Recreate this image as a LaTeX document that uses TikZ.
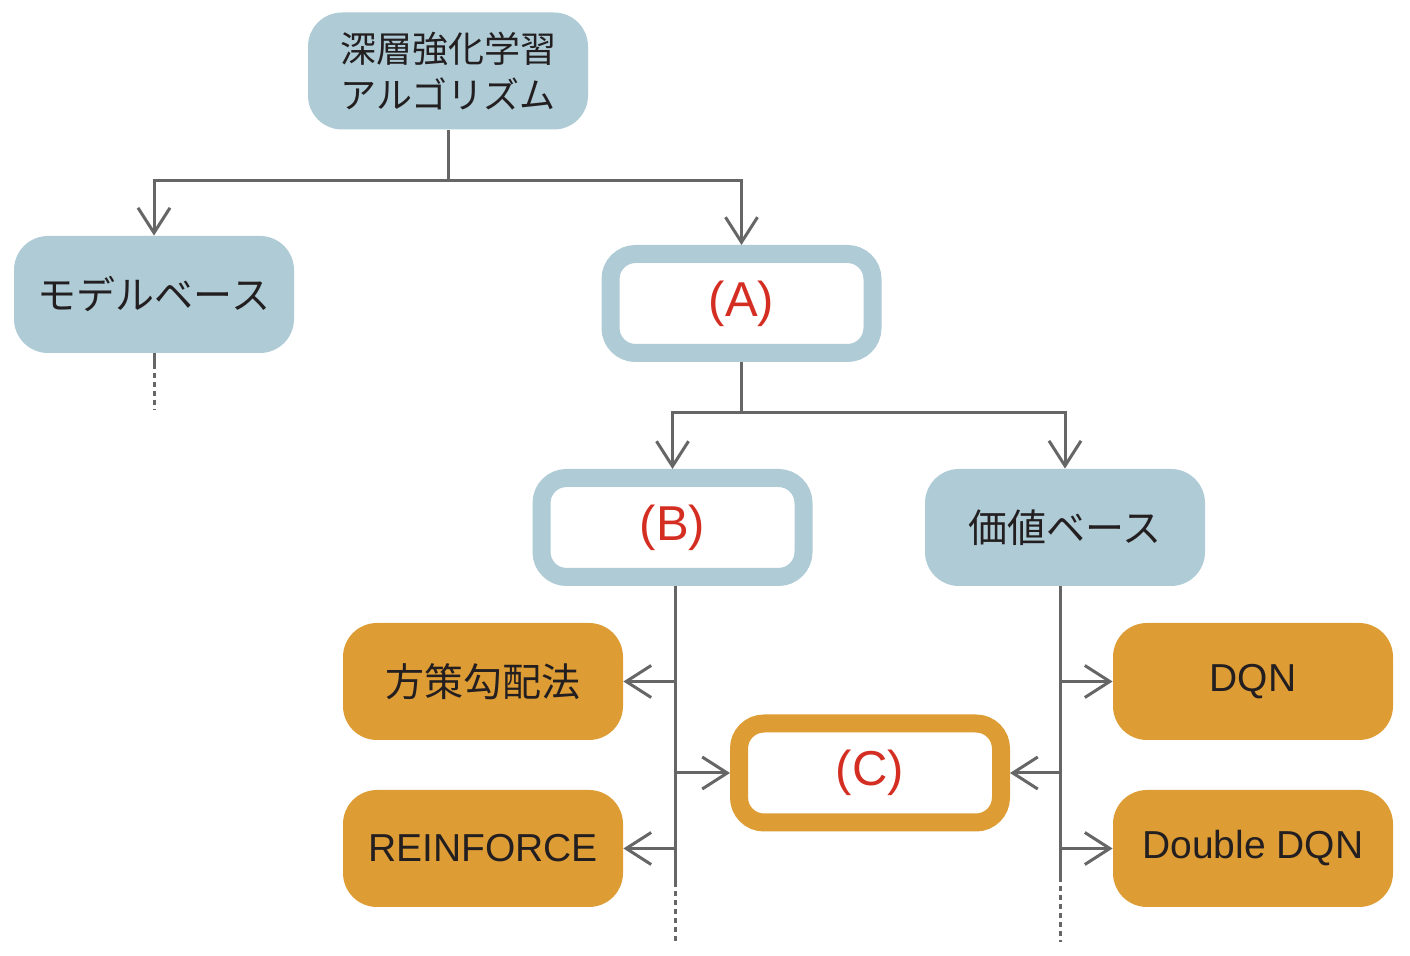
\documentclass[tikz,border=0pt]{standalone}
\usepackage{fontspec}
\setmainfont{Liberation Sans}
\newfontfamily\jpfont{Noto Sans CJK JP}
\usetikzlibrary{arrows.meta}
\definecolor{lblue}{HTML}{AECBD6}
\definecolor{orng}{HTML}{DE9C35}
\definecolor{lgray}{HTML}{666666}
\definecolor{txt}{HTML}{231F20}
\definecolor{redt}{HTML}{D42E22}
\tikzset{
  x=0.5pt, y=-0.5pt,
  fillbox/.style={rounded corners=17pt, minimum width=140pt, minimum height=58.5pt, inner sep=0pt, text=txt, font=\jpfont\fontsize{19.5}{23}\selectfont},
  bluebox/.style={fillbox, fill=lblue},
  orgbox/.style={fillbox, fill=orng},
  ringbox/.style={rounded corners=12.5pt, minimum width=131pt, minimum height=49.5pt, line width=9pt, fill=white, inner sep=0pt, text=redt, font=\fontsize{24.5}{28}\selectfont},
  conn/.style={draw=lgray, line width=1.5pt},
  arr/.style={conn, -{Straight Barb[length=12.5pt, width=16pt, line width=1.5pt]}},
  dots/.style={draw=lgray, line width=1.5pt, dash pattern=on 2.5pt off 2pt},
}
\begin{document}
\begin{tikzpicture}
\useasboundingbox (0,0) rectangle (1410,956);
% nodes
\node[bluebox, font=\jpfont\fontsize{18}{23}\selectfont, align=center] (top) at (448,71) {深層強化学習\\アルゴリズム};
\node[bluebox] (model) at (154,294.5) {モデルベース};
\node[ringbox, draw=lblue] (A) at (741.5,303.5) {(A)};
\node[ringbox, draw=lblue] (B) at (672.5,527.5) {(B)};
\node[bluebox] (V) at (1065,527.5) {価値ベース};
\node[orgbox] (pg) at (483,681.5) {方策勾配法};
\node[orgbox, font=\fontsize{19.5}{23}\selectfont] (rf) at (483,848.5) {REINFORCE};
\node[ringbox, draw=orng] (C) at (870,773) {(C)};
\node[orgbox, font=\fontsize{19.5}{23}\selectfont] (dqn) at (1253,681.5) {DQN};
\node[orgbox, font=\fontsize{19.5}{23}\selectfont] (ddqn) at (1253,848.5) {Double DQN};
% coordinates
\coordinate (j1) at (448,181);
\coordinate (j2) at (741.5,413);
\coordinate (m1) at (154,364);
\coordinate (m2) at (154,410);
\coordinate (bs) at (675,586);
\coordinate (be) at (675,882);
\coordinate (bd) at (675,942);
\coordinate (vs) at (1060,586);
\coordinate (ve) at (1060,877);
\coordinate (vd) at (1060,942);
% connectors
\draw[conn] (top.south) -- (j1);
\draw[arr] (j1) -| (model.north);
\draw[arr] (j1) -| (A.north);
\draw[conn] (model.south) -- (m1);
\draw[dots] (m1) -- (m2);
\draw[conn] (A.south) -- (j2);
\draw[arr] (j2) -| (B.north);
\draw[arr] (j2) -| (V.north);
\draw[conn] (bs) -- (be);
\draw[dots] (be) -- (bd);
\draw[arr] (pg.east -| bs) -- (pg.east);
\draw[arr] (rf.east -| bs) -- (rf.east);
\draw[arr] (C.west -| bs) -- (C.west);
\draw[conn] (vs) -- (ve);
\draw[dots] (ve) -- (vd);
\draw[arr] (dqn.west -| vs) -- (dqn.west);
\draw[arr] (ddqn.west -| vs) -- (ddqn.west);
\draw[arr] (C.east -| vs) -- (C.east);
\end{tikzpicture}
\end{document}
